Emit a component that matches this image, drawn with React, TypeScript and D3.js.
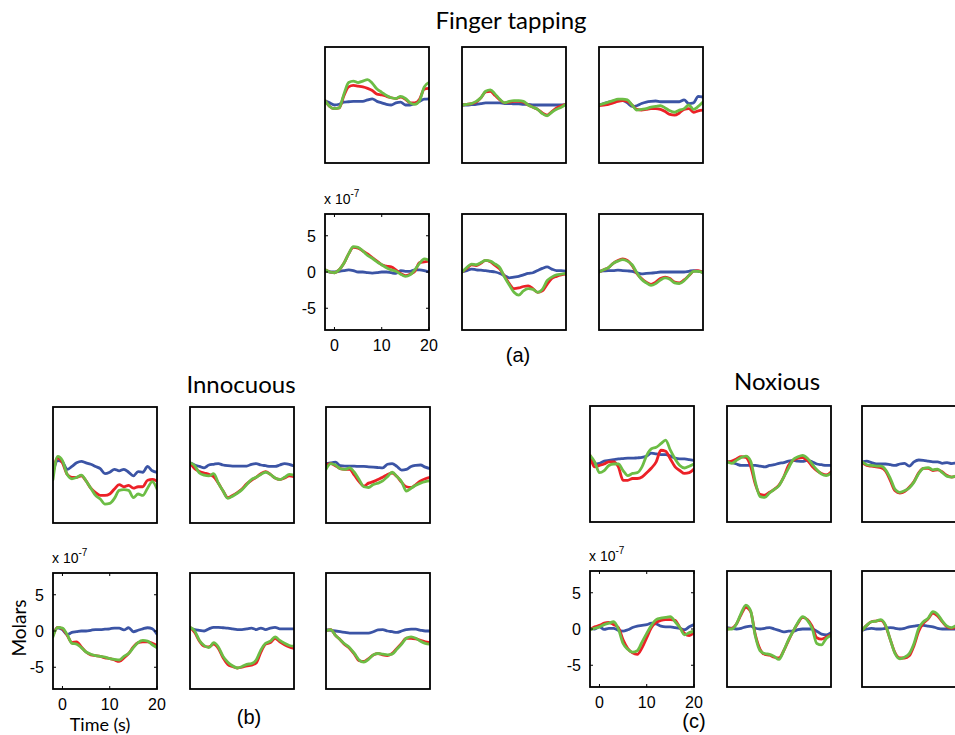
import React from "react";
import * as d3 from "d3";

// time axis (s) and ticks
const TIME = [-2, -1, 0, 1, 2, 3, 4, 5, 6, 7, 8, 9, 10, 11, 12, 13, 14, 15, 16, 17, 18, 19, 20];
const X_TICKS = [0, 10, 20];
const Y_TICKS = [-5, 0, 5];

// Finger tapping (values x 1e-7 M)
const tapU1Blue = [0.6, 0.3, 0, 0.1, 0.4, 0.45, 0.5, 0.5, 0.5, 0.7, 0.85, 0.5, 0.3, 0.1, 0, 0.3, 0.4, 0, 0, 0.2, 0.5, 0.8, 0.85];
const tapU1Red = [0.6, -0.2, -0.5, -0.4, 1.3, 2.5, 2.7, 2.6, 2.5, 2.3, 2.0, 1.5, 1.4, 1.2, 1.0, 0.9, 1.1, 0.8, 0.3, 0.3, 0.8, 2.2, 2.3];
const tapU1Green = [0.6, -0.2, -0.5, -0.4, 1.5, 3.1, 3.3, 3.1, 3.3, 3.5, 3.0, 2.2, 1.75, 1.3, 1.0, 0.9, 1.2, 0.9, 0.3, 0.1, 0.6, 2.5, 3.1];
const tapU2Blue = [0, 0, 0.05, 0.1, 0.2, 0.3, 0.3, 0.3, 0.3, 0.2, 0.2, 0.15, 0.15, 0.1, 0.1, 0, 0, 0, 0, 0, 0, 0, 0.1];
const tapU2Red = [0, 0.1, 0.2, 0.4, 1.0, 1.8, 1.9, 1.3, 0.7, 0.3, 0.4, 0.5, 0.5, 0.4, 0, -0.3, -0.6, -1.1, -1.4, -0.9, -0.4, -0.1, 0.1];
const tapU2Green = [0, 0.1, 0.2, 0.5, 1.0, 1.9, 2.1, 1.5, 0.8, 0.3, 0.5, 0.6, 0.6, 0.5, 0, -0.3, -0.6, -1.2, -1.5, -1.0, -0.6, -0.3, 0.1];
const tapU3Blue = [0, 0.2, 0.4, 0.55, 0.6, 0.6, 0.3, -0.2, -0.1, 0.2, 0.4, 0.5, 0.55, 0.45, 0.45, 0.45, 0.45, 0.45, 0.7, 0.2, 0.3, 1.2, 1.1];
const tapU3Red = [-0.1, 0, 0.1, 0.3, 0.5, 0.6, 0.5, 0, -0.6, -0.7, -0.6, -0.5, -0.5, -0.6, -0.9, -1.3, -1.4, -1.1, -0.6, -0.5, -1.0, -0.8, -0.7];
const tapU3Green = [0, 0.2, 0.4, 0.6, 0.8, 0.8, 0.7, 0, -0.7, -0.6, -0.5, -0.3, -0.2, -0.1, -0.4, -0.8, -1.0, -0.7, -0.5, 0, -0.6, -0.2, 0.4];
const tapL1Blue = [0.2, 0, 0, 0.1, 0.2, 0.3, 0.2, 0, 0, -0.1, -0.15, -0.1, 0, 0, -0.1, -0.2, 0.2, 0.1, 0.1, 0.3, 0.3, 0.2, 0];
const tapL1Red = [0.3, 0, -0.1, 0.3, 1.2, 2.5, 3.4, 3.3, 2.9, 2.5, 2.0, 1.5, 1.0, 0.8, 0.7, 0.3, -0.2, -0.5, -0.3, 0.1, 1.3, 1.4, 1.5];
const tapL1Green = [0.3, 0, -0.1, 0.3, 1.2, 2.5, 3.5, 3.4, 2.9, 2.3, 1.9, 1.4, 1.0, 0.6, 0.3, 0.1, -0.3, -0.6, -0.4, 0.3, 1.2, 1.8, 1.6];
const tapL2Blue = [0, 0.2, 0.4, 0.3, 0.25, 0.2, 0.1, 0, -0.2, -0.5, -0.8, -0.7, -0.6, -0.4, -0.2, -0.1, 0.2, 0.5, 0.7, 0.4, 0.2, 0.2, 0.1];
const tapL2Red = [0, 0.5, 1.0, 0.9, 1.2, 1.6, 1.4, 0.9, 0.4, -0.6, -1.6, -2.3, -2.2, -2.0, -1.9, -2.3, -2.8, -2.6, -1.7, -0.9, -0.6, -0.4, -0.3];
const tapL2Green = [0, 0.6, 1.1, 1.0, 1.3, 1.6, 1.5, 1.1, 0.6, -0.7, -1.8, -2.8, -3.2, -2.6, -2.3, -2.4, -2.8, -2.4, -1.2, -0.7, -0.4, -0.3, -0.2];
const tapL3Blue = [0.1, 0.15, 0.2, 0.2, 0.25, 0.2, 0.15, 0.1, -0.1, -0.25, -0.2, -0.15, -0.1, 0, 0, 0, 0, 0, 0, 0.1, 0.2, 0.1, 0];
const tapL3Red = [0, 0.3, 0.6, 1.2, 1.6, 1.8, 1.6, 0.9, -0.2, -0.9, -1.4, -1.7, -1.4, -0.9, -0.7, -0.9, -1.4, -1.5, -1.1, -0.5, 0.1, 0.2, -0.1];
const tapL3Green = [0, 0.3, 0.6, 1.2, 1.5, 1.7, 1.5, 1.0, -0.1, -1.0, -1.5, -1.85, -1.6, -1.1, -0.8, -1.0, -1.5, -1.6, -1.2, -0.5, 0.1, 0.1, -0.1];

// Innocuous
const innU1Blue = [-1.0, 0.6, 0.4, -0.6, -0.2, 0.3, 0.5, 0.3, 0.1, -0.2, -0.5, -1.2, -1.0, -0.6, -0.8, -0.6, -1.0, -1.5, -0.9, -1.0, -0.2, -0.8, -1.0];
const innU1Red = [-1.0, 1.0, 0.3, -1.3, -1.7, -1.7, -1.5, -2.2, -3.2, -3.8, -4.2, -4.2, -4.0, -3.3, -2.7, -3.0, -2.8, -3.2, -3.0, -3.0, -2.1, -2.0, -2.2];
const innU1Green = [-2.0, 1.2, 0.6, -1.3, -1.9, -1.7, -1.4, -2.2, -3.2, -4.2, -4.7, -5.4, -5.3, -4.6, -3.5, -3.4, -3.5, -4.5, -4.0, -4.2, -3.2, -2.3, -3.3];
const innU2Blue = [0.3, 0, -0.2, -0.4, 0, 0.1, 0.2, 0, -0.1, -0.15, -0.15, -0.15, -0.15, 0.1, 0.2, 0, -0.1, -0.2, -0.2, 0, 0.2, 0.1, -0.15];
const innU2Red = [0.3, -0.5, -0.9, -1.1, -1.3, -1.6, -2.5, -3.6, -4.5, -4.2, -3.8, -3.3, -2.6, -2.1, -1.7, -1.2, -0.9, -1.3, -1.8, -2.0, -1.8, -1.5, -1.6];
const innU2Green = [0.3, -0.1, -1.1, -1.4, -1.5, -1.2, -2.5, -3.6, -4.6, -4.3, -3.9, -3.4, -2.7, -2.0, -1.7, -1.3, -1.0, -1.3, -1.8, -2.0, -1.7, -1.3, -1.4];
const innU3Blue = [0.2, 0.3, 0.4, -0.1, -0.15, -0.15, -0.15, -0.2, -0.2, -0.25, -0.3, -0.35, -0.4, 0.1, 0.2, -0.2, -0.7, -0.6, -0.2, -0.05, 0, -0.3, -0.5];
const innU3Red = [0, 0.2, -0.1, -0.5, -0.6, -0.6, -1.4, -2.3, -2.9, -2.5, -2.3, -2.0, -1.7, -1.3, -1.1, -1.6, -2.4, -3.0, -3.1, -2.7, -2.2, -1.9, -1.7];
const innU3Green = [-0.6, 0.2, 0.0, -0.5, -0.6, -0.4, -1.0, -2.0, -3.0, -3.1, -2.7, -2.5, -2.2, -1.6, -1.0, -1.6, -2.3, -3.6, -3.2, -2.8, -2.5, -2.3, -2.2];
const innL1Blue = [-0.45, 0.45, 0.2, -0.5, -0.2, -0.1, 0, 0, 0.1, 0.2, 0.2, 0.25, 0.3, 0.4, 0.4, 0.15, 0.45, -0.1, 0.1, 0.3, 0.45, 0.3, -0.45];
const innL1Red = [-0.6, 0.5, 0.3, -0.6, -1.6, -1.5, -2.2, -2.9, -3.3, -3.4, -3.5, -3.7, -3.8, -4.0, -4.2, -3.7, -3.1, -2.2, -1.6, -1.5, -1.5, -1.7, -2.0];
const innL1Green = [-0.8, 0.5, 0.4, -0.5, -1.7, -1.8, -2.3, -2.9, -3.2, -3.4, -3.5, -3.6, -3.8, -3.9, -4.0, -3.5, -3.1, -2.3, -1.6, -1.3, -1.4, -1.9, -2.3];
const innL2Blue = [0.4, 0.2, 0.1, 0, 0.3, 0.5, 0.5, 0.45, 0.4, 0.3, 0.2, 0.2, 0.3, 0.4, 0.2, 0.4, 0.2, 0.4, 0.5, 0.3, 0.3, 0.3, 0.3];
const innL2Red = [0.5, -0.2, -1.4, -2.1, -2.2, -1.8, -2.4, -3.7, -4.6, -4.9, -5.1, -5.0, -4.8, -4.7, -4.4, -2.9, -1.8, -1.6, -1.0, -1.5, -1.9, -2.2, -2.4];
const innL2Green = [0.5, 0, -1.3, -2.0, -2.3, -1.6, -2.2, -3.5, -4.3, -4.8, -5.1, -4.9, -4.6, -4.5, -4.0, -2.6, -1.7, -1.4, -0.8, -1.3, -1.7, -2.0, -2.1];
const innL3Blue = [0.2, 0.1, 0, -0.1, -0.2, -0.3, -0.3, -0.3, -0.3, -0.3, -0.1, 0.15, 0.2, 0, -0.1, -0.2, 0, 0.2, 0.25, 0.25, 0.1, 0, 0];
const innL3Red = [0, 0.2, -0.6, -1.2, -1.9, -2.4, -3.2, -4.1, -4.2, -3.8, -3.3, -3.1, -3.3, -3.4, -3.1, -2.4, -1.7, -1.0, -1.0, -1.1, -1.3, -1.5, -1.6];
const innL3Green = [0, 0.2, -0.6, -1.2, -1.8, -2.3, -3.1, -4.0, -4.3, -3.9, -3.3, -3.1, -3.2, -3.3, -3.2, -2.5, -1.8, -1.0, -0.8, -1.0, -1.4, -1.7, -1.8];

// Noxious
const noxU1Blue = [1.0, 0, 0.1, 0.4, 0.5, 0.6, 0.7, 0.75, 0.8, 0.8, 0.85, 0.9, 1.1, 1.5, 1.4, 1.3, 1.3, 1.1, 0.8, 0.7, 0.7, 0.6, 0.5];
const noxU1Red = [1.2, -0.4, -0.2, 0, 0.3, 0.3, -0.4, -2.25, -2.25, -2.0, -2.0, -1.8, -1.2, -0.55, 0.3, 1.9, 1.75, 0.7, -0.4, -0.9, -1.3, -1.2, -0.7];
const noxU1Green = [1.2, 0.3, -1.2, -0.9, -0.2, 0, 0, -0.9, -1.6, -1.3, -1.2, -0.4, 1.2, 2.1, 2.3, 2.8, 3.3, 1.9, 0.7, -0.2, -0.55, -0.3, 0];
const noxL1Blue = [0.1, 0, 0.3, -0.05, 0.1, 0.1, -0.2, -0.3, -0.1, 0.2, 0.4, 0.5, 0.6, 0.8, 0.7, 0.4, 0.3, 0.3, 0.2, 0.1, -0.1, 0.3, 0.6];
const noxL1Red = [-0.1, 0.3, 0.5, 0.8, 0.9, 0.6, 0.2, -1.5, -2.7, -3.3, -3.5, -2.6, -1.2, 0.2, 0.9, 1.2, 1.3, 1.3, 1.2, 0.2, -0.6, -0.9, -0.5];
const noxL1Green = [-0.1, 0.1, 0.3, 0.6, 0.8, 1.0, 0.0, -2.0, -2.8, -3.2, -3.0, -1.8, -0.6, 0.5, 1.3, 1.5, 1.6, 1.7, 1.0, 0.2, -0.8, -0.5, -0.3];
const noxU2Blue = [0.3, 0.2, 0, -0.2, -0.2, -0.2, -0.2, -0.3, -0.4, -0.2, -0.1, 0.1, 0.2, 0.4, 0.5, 0.4, 0.35, 0.5, 0.3, 0, -0.1, -0.2, -0.2];
const noxU2Red = [0.3, 0.4, 0.7, 1.0, 0.9, -0.3, -2.8, -4.2, -4.3, -3.9, -3.5, -2.9, -1.8, -0.2, 0.5, 0.8, 0.9, 0.5, -0.3, -0.9, -1.3, -1.5, -1.1];
const noxU2Green = [0.3, 0.1, 0.5, 0.9, 1.1, 0.4, -2.5, -4.5, -4.6, -4.0, -3.5, -3.0, -1.8, -0.6, 0.6, 1.0, 1.2, 0.8, 0.0, -0.8, -1.4, -1.6, -1.3];
const noxL2Blue = [0.2, 0.1, 0, 0.1, 0.3, 0.4, 0.1, 0, 0.1, 0.2, 0.0, -0.2, -0.4, -0.3, -0.3, -0.1, 0, 0, 0, -0.3, -0.7, -0.8, -0.5];
const noxL2Red = [0, 0.1, 0.7, 2.0, 3.0, 2.4, -0.8, -2.8, -3.5, -3.6, -3.9, -4.0, -3.0, -1.6, -0.3, 0.8, 1.6, 1.3, 0.4, -1.2, -1.4, -1.1, -0.8];
const noxL2Green = [0, 0, 0.7, 2.2, 3.3, 2.5, -1.0, -3.0, -3.4, -3.5, -3.8, -4.2, -3.0, -1.5, -0.3, 0.9, 1.7, 1.2, 0.1, -2.0, -2.2, -1.3, -0.9];
const noxU3Blue = [0.3, 0.4, 0.2, 0, 0, 0, -0.1, -0.2, 0, 0.1, -0.3, 0.3, 0.55, 0.5, 0.4, 0.3, 0.3, 0.1, 0.2, 0.05, 0.15, 0.2, 0.2];
const noxU3Red = [0.2, -0.2, -0.3, -0.4, -0.5, -1.0, -2.3, -3.7, -4.0, -3.8, -3.2, -2.4, -1.2, -0.6, -0.6, -0.9, -0.8, -1.1, -1.6, -1.8, -1.7, -1.6, -1.6];
const noxU3Green = [0.3, -0.1, -0.2, -0.3, -0.3, -0.8, -2.0, -3.5, -3.9, -3.7, -3.3, -2.5, -1.3, -0.6, -0.5, -0.8, -0.7, -1.2, -1.7, -1.8, -1.6, -1.5, -1.5];
const noxL3Blue = [-0.2, 0, 0.1, 0, 0, 0.1, 0.2, 0.1, 0, 0.1, 0.3, 0.4, 0.5, 0.5, 0.4, 0.3, 0.1, 0, 0, 0, 0, 0, 0];
const noxL3Red = [-0.2, 0.5, 1.0, 1.1, 1.2, 0.4, -1.5, -3.3, -4.0, -4.0, -3.7, -2.3, -0.3, 0.8, 1.4, 2.2, 1.8, 1.0, 0.3, 0.1, 0.3, 0.6, 0.5];
const noxL3Green = [-0.2, 0.5, 1.0, 1.1, 1.3, 0.5, -1.5, -3.4, -4.1, -3.9, -3.4, -2.0, 0.1, 1.0, 1.5, 2.4, 2.0, 1.1, 0.4, 0.2, 0.5, 0.8, 0.6];

const BLUE = "#3b54a5";
const RED = "#ec2127";
const GREEN = "#6cbd45";
const PW = 104;
const PH = 116;
const TICK_FONT = "'Liberation Sans', Arial, sans-serif";
const TITLE_FONT = "Lato, 'Open Sans', sans-serif";

type Series = number[][]; // blue, red, green

const Panel = ({ id, left, top, series, axes }: { id: string; left: number; top: number; series: Series; axes: boolean }) => {
  const x = d3.scaleLinear().domain([-2, 20]).range([0, PW]);
  const y = d3.scaleLinear().domain([-8, 8]).range([PH, 0]);
  const line = d3
    .line<number>()
    .x((_, i) => x(TIME[i]))
    .y((d) => y(d))
    .curve(d3.curveMonotoneX);
  const colors = [BLUE, RED, GREEN];
  return (
    <g transform={`translate(${left},${top})`}>
      <clipPath id={`clip_${id}`}>
        <rect x={0} y={0} width={PW} height={PH} />
      </clipPath>
      <g clipPath={`url(#clip_${id})`}>
        {series.map((s, i) => (
          <path key={i} d={line(s) || ""} fill="none" stroke={colors[i]} strokeWidth={2.8} strokeLinejoin="round" strokeLinecap="round" />
        ))}
      </g>
      <rect x={0} y={0} width={PW} height={PH} fill="none" stroke="#000" strokeWidth={1.8} />
      {axes && (
        <g fontFamily={TICK_FONT} fontSize={16} fill="#000">
          {Y_TICKS.map((t) => (
            <g key={`y${t}`}>
              <line x1={0} x2={3} y1={y(t)} y2={y(t)} stroke="#000" />
              <line x1={PW - 3} x2={PW} y1={y(t)} y2={y(t)} stroke="#000" />
              <text x={-9} y={y(t) + 6} textAnchor="end">{t}</text>
            </g>
          ))}
          {X_TICKS.map((t) => (
            <g key={`x${t}`}>
              <line x1={x(t)} x2={x(t)} y1={PH} y2={PH - 3} stroke="#000" />
              <line x1={x(t)} x2={x(t)} y1={0} y2={3} stroke="#000" />
              <text x={x(t)} y={PH + 21} textAnchor="middle">{t}</text>
            </g>
          ))}
          <text x={-1} y={-10} fontSize={14}>
            x 10<tspan dy={-7} fontSize={10}>-7</tspan>
          </text>
        </g>
      )}
    </g>
  );
};

const GROUPS = [
  {
    key: "tap",
    lefts: [325, 462, 599],
    tops: [47, 214],
    rows: [
      [[tapU1Blue, tapU1Red, tapU1Green], [tapU2Blue, tapU2Red, tapU2Green], [tapU3Blue, tapU3Red, tapU3Green]],
      [[tapL1Blue, tapL1Red, tapL1Green], [tapL2Blue, tapL2Red, tapL2Green], [tapL3Blue, tapL3Red, tapL3Green]],
    ],
  },
  {
    key: "inn",
    lefts: [53, 190, 326],
    tops: [407, 573],
    rows: [
      [[innU1Blue, innU1Red, innU1Green], [innU2Blue, innU2Red, innU2Green], [innU3Blue, innU3Red, innU3Green]],
      [[innL1Blue, innL1Red, innL1Green], [innL2Blue, innL2Red, innL2Green], [innL3Blue, innL3Red, innL3Green]],
    ],
  },
  {
    key: "nox",
    lefts: [590, 727, 862],
    tops: [406, 571],
    rows: [
      [[noxU1Blue, noxU1Red, noxU1Green], [noxU2Blue, noxU2Red, noxU2Green], [noxU3Blue, noxU3Red, noxU3Green]],
      [[noxL1Blue, noxL1Red, noxL1Green], [noxL2Blue, noxL2Red, noxL2Green], [noxL3Blue, noxL3Red, noxL3Green]],
    ],
  },
];

export default function App() {
  return (
    <svg width={955} height={735} style={{ position: "absolute", left: 0, top: 0, display: "block", background: "#fff" }}>
      {GROUPS.map((g) =>
        g.rows.map((row, r) =>
          row.map((s, c) => (
            <Panel key={`${g.key}${r}${c}`} id={`${g.key}${r}${c}`} left={g.lefts[c]} top={g.tops[r]} series={s} axes={r === 1 && c === 0} />
          ))
        )
      )}
      <g fontFamily={TITLE_FONT} fill="#000">
        <text x={511} y={29} fontSize={24} textAnchor="middle">Finger tapping</text>
        <text x={241} y={393} fontSize={24} textAnchor="middle">Innocuous</text>
        <text x={777} y={390} fontSize={24} textAnchor="middle">Noxious</text>
        <text x={100} y={731} fontSize={18} textAnchor="middle">Time (s)</text>
        <text transform="translate(26,628) rotate(-90)" fontSize={19} textAnchor="middle">Molars</text>
      </g>
      <g fontFamily={TICK_FONT} fontSize={20} fill="#000" textAnchor="middle">
        <text x={518} y={362}>(a)</text>
        <text x={249} y={724}>(b)</text>
        <text x={694} y={728}>(c)</text>
      </g>
    </svg>
  );
}
